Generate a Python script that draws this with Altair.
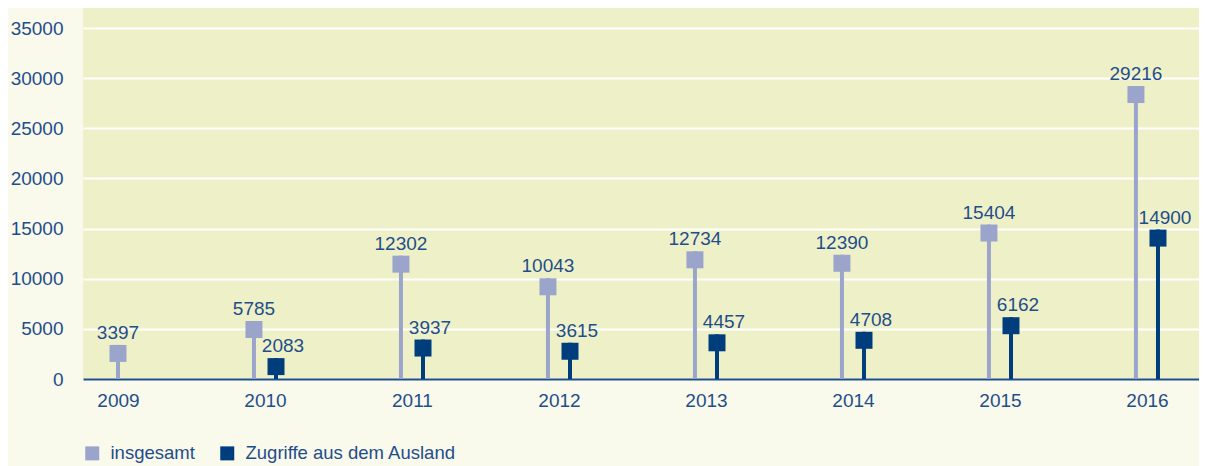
import altair as alt
import pandas as pd

years = [2009, 2010, 2011, 2012, 2013, 2014, 2015, 2016]
insgesamt = [3397, 5785, 12302, 10043, 12734, 12390, 15404, 29216]
ausland = [None, 2083, 3937, 3615, 4457, 4708, 6162, 14900]
series_names = ["insgesamt", "Zugriffe aus dem Ausland"]
series_colors = ["#9BA5CB", "#003D7C"]
y_ticks = [0, 5000, 10000, 15000, 20000, 25000, 30000, 35000]

rows = []
for y, a, b in zip(years, insgesamt, ausland):
    rows.append({"year": y, "series": series_names[0], "value": a})
    if b is not None:
        rows.append({"year": y, "series": series_names[1], "value": b})
df = pd.DataFrame(rows)

FONT = "Liberation Sans"
TXT = "#1F4E8A"

base = alt.Chart(df).transform_joinaggregate(
    n="count()", groupby=["year"]
).transform_calculate(
    pos="datum.n == 1 ? datum.year : (datum.series == 'insgesamt' ? datum.year - 0.075 : datum.year + 0.075)"
)

xenc = alt.X(
    "pos:Q",
    scale=alt.Scale(domain=[2008.762, 2016.354], nice=False, zero=False),
    axis=alt.Axis(
        values=years, format="d", title=None, grid=False, ticks=False, tickSize=0,
        domain=True, domainColor="#1F4E8A", domainWidth=2,
        labelFont=FONT, labelFontSize=19, labelColor=TXT, labelPadding=12,
        labelAngle=0,
    ),
)
yenc = alt.Y(
    "value:Q",
    scale=alt.Scale(domain=[0, 37000], nice=False),
    axis=alt.Axis(
        values=y_ticks, format="d", title=None, grid=True, gridColor="white",
        gridWidth=2, ticks=False, tickSize=0, domain=False,
        labelFont=FONT, labelFontSize=19, labelColor=TXT, labelPadding=20,
    ),
)
cscale = alt.Scale(domain=series_names, range=series_colors)
legend = alt.Legend(
    title=None, orient="none", legendX=0, legendY=436, direction="horizontal",
    symbolType="square", symbolSize=196, symbolStrokeWidth=0, symbolOpacity=1,
    labelFont=FONT, labelFontSize=18.5, labelColor=TXT, labelOffset=9,
    labelLimit=400, columnPadding=23, padding=0,
)
color = alt.Color("series:N", scale=cscale, legend=legend)

stems = base.mark_rule(strokeWidth=4).encode(
    x=xenc, y=yenc, y2=alt.datum(0), color=color
)

squares = base.mark_square(size=289, opacity=1, yOffset=8.5).encode(
    x=xenc, y=yenc, color=color
)

labels_a = base.transform_filter("datum.series == 'insgesamt'").mark_text(
    font=FONT, fontSize=19, color=TXT, dy=-6, baseline="alphabetic", align="center"
).encode(x=xenc, y=yenc, text="value:Q")

labels_b = base.transform_filter("datum.series != 'insgesamt'").mark_text(
    font=FONT, fontSize=19, color=TXT, dy=-6, dx=7, baseline="alphabetic", align="center"
).encode(x=xenc, y=yenc, text="value:Q")

chart = alt.layer(squares, stems, labels_a, labels_b).properties(
    width=1116, height=371,
    autosize=alt.AutoSizeParams(type="none"),
    padding={"left": 75, "top": 0, "right": 0, "bottom": 87},
    background="#F9F9EC",
).configure_view(fill="#EEF1C8", stroke=None, strokeWidth=0)

chart.save("out.html", embed_options={"renderer": "svg", "actions": False})
